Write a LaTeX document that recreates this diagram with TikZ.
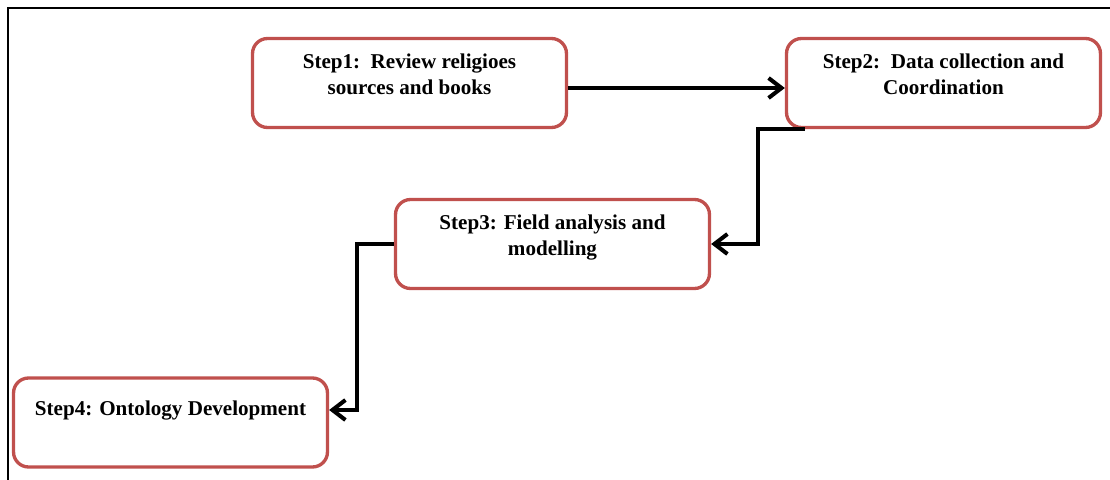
\documentclass[tikz,border=0pt]{standalone}
\usepackage{fontspec}
\setmainfont{Liberation Serif}
\usetikzlibrary{arrows.meta}
\definecolor{boxred}{RGB}{192,80,77}
\newcommand{\steptext}[2][0cm]{\parbox[c][1.18cm][t]{6.28cm}{\centering\vspace*{#1}#2}}

\begin{document}
\begin{tikzpicture}[x=0.02cm,y=-0.02cm,
  stepbox/.style={draw=boxred,line width=1.9pt,rounded corners=0.3cm,inner xsep=0pt,inner ysep=0.3cm,
    font=\fontsize{12}{15}\selectfont\bfseries},
  flow/.style={line width=2.3pt,-{Straight Barb[length=0.26cm,width=0.4cm]}}]
\useasboundingbox (0,0) rectangle (1110,480);
% frame
\draw[line width=1.3pt] (1110,8) -- (8,8) -- (8,480);
% steps
\node[stepbox] (s1) at (409.5,83) {\steptext{Step1:\ \ Review religioes\\sources and books}};
\node[stepbox] (s2) at (943.5,83) {\steptext{Step2:\ \ Data collection and\\Coordination}};
\node[stepbox] (s3) at (552.5,244) {\steptext{Step3: Field analysis and\\modelling}};
\node[stepbox] (s4) at (170.5,422.5) {\steptext[0.16cm]{Step4: Ontology Development}};
% arrows
\draw[flow] ([yshift=-0.1cm]s1.east) -- ([yshift=-0.1cm]s2.west);
\draw[flow] ([xshift=0.4cm]s2.south west) -- ++(-47,0) |- (s3.east);
\draw[flow] (s3.west) -- ++(-37,0) |- ([yshift=0.25cm]s4.east);
\end{tikzpicture}
\end{document}
